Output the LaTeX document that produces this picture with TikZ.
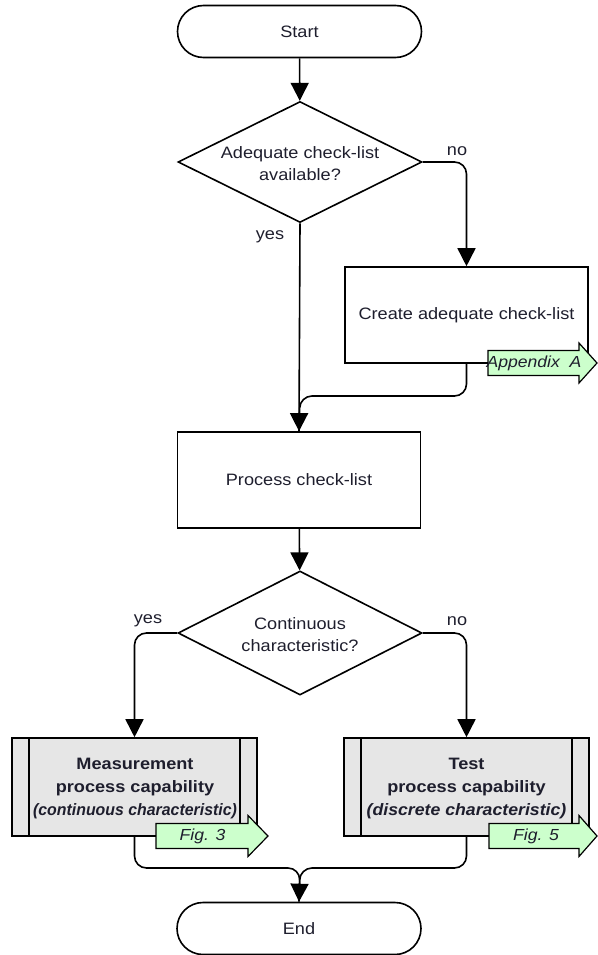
\documentclass[tikz,border=0pt]{standalone}
\usepackage{fontspec}
\setmainfont{Liberation Sans}[FakeStretch=1.1]
\usetikzlibrary{shapes.geometric,arrows.meta}
\definecolor{ink}{RGB}{30,30,45}
\definecolor{boxgray}{RGB}{230,230,230}
\definecolor{refgreen}{RGB}{204,255,204}

\begin{document}
\begin{tikzpicture}[x=1pt,y=-1pt,
  font=\fontsize{16.5}{22}\selectfont,
  flow/.style={draw=black, line width=1.6pt, rounded corners=12pt},
  arr/.style={flow, -{Triangle[length=18pt,width=18pt]}},
  term/.style={draw, line width=1.6pt, rounded corners=26pt, minimum width=244pt, minimum height=52pt, inner sep=0pt, text=ink},
  procbox/.style={draw, line width=1.6pt, minimum width=243pt, minimum height=96pt, inner sep=0pt, align=center, text=ink},
  subproc/.style={draw, line width=1.6pt, fill=boxgray, minimum width=245pt, minimum height=98pt, inner sep=0pt},
  decision/.style={draw, diamond, line width=1.6pt, minimum width=244pt, minimum height=121pt, inner sep=0pt},
  lbl/.style={inner sep=0pt, align=center, text=ink},
  refarrow/.style={draw, fill=refgreen, line width=1.2pt, line join=miter},
  reftext/.style={lbl, font=\fontsize{16}{20}\selectfont\itshape},
  ]
\useasboundingbox (0,0) rectangle (597,955);

% main column
\node[term] (start) at (299.5,31.5) {Start};
\node[decision] (d1) at (300,162) {};
\node[lbl] (d1txt) at (300,163.5) {Adequate check-list\\available?};
\node[procbox] (create) at (466.5,315) {\raisebox{-2pt}{Create adequate check-list}};
\node[procbox] (proc) at (299,480) {Process check-list};
\node[decision, minimum height=124pt] (d2) at (300,633) {};
\node[lbl] (d2txt) at (300,635) {Continuous\\characteristic?};
\node[subproc] (meas) at (134.5,787) {};
\node[subproc] (test) at (466.5,787) {};
\node[term] (end) at (299,928.5) {End};

% side bars of the predefined-process boxes
\foreach \b in {meas,test}{
  \draw[line width=1.6pt] ([xshift=18pt]\b.north west) -- ([xshift=18pt]\b.south west);
  \draw[line width=1.6pt] ([xshift=-18pt]\b.north east) -- ([xshift=-18pt]\b.south east);
}
\node[lbl, font=\fontsize{16.5}{23}\selectfont\bfseries] (meastxt) at (135,789)
  {Measurement\\process capability\\\itshape\scalebox{0.875}[1]{(continuous characteristic)}};
\node[lbl, font=\fontsize{16.5}{23}\selectfont\bfseries] (testtxt) at (466.5,789)
  {Test\\process capability\\\itshape\scalebox{0.975}[1]{(discrete characteristic)}};

% merge points
\coordinate (m1) at (300,396);
\coordinate (m2) at (300,868);

% connectors
\draw[arr] (start) -- (d1);
\draw[arr] (d1.east) -| (create.north);
\draw[arr] (d1.south) -- (proc.north);
\draw[flow] (create.south) |- (m1) -- (proc.north);
\draw[arr] (proc) -- (d2);
\draw[arr] (d2.west) -| (meas.north);
\draw[arr] (d2.east) -| (test.north);
\draw[flow] (meas.south) |- (m2) -- (end.north);
\draw[arr] (test.south) |- (m2) -- (end.north);

% branch labels
\node[lbl] (no1) at (457,151) {no};
\node[lbl] (yes1) at (270,237) {yes};
\node[lbl] (yes2) at (148,621) {yes};
\node[lbl] (no2) at (457,621) {no};

% cross-reference arrows
\draw[refarrow] (488,350.5) -- (579,350.5) -- (579,343) -- (597,363) -- (579,383) -- (579,375.5) -- (488,375.5) -- cycle;
\node[reftext] (appA) at (534,363) {Appendix\ \ A};
\draw[refarrow] (156,823.5) -- (248,823.5) -- (248,815.5) -- (268,836) -- (248,856.5) -- (248,848.5) -- (156,848.5) -- cycle;
\node[reftext] (fig3) at (202.5,836) {Fig. 3};
\draw[refarrow] (489,823.5) -- (579,823.5) -- (579,815.5) -- (597,836) -- (579,856.5) -- (579,848.5) -- (489,848.5) -- cycle;
\node[reftext] (fig5) at (536,836) {Fig. 5};
\end{tikzpicture}
\end{document}
